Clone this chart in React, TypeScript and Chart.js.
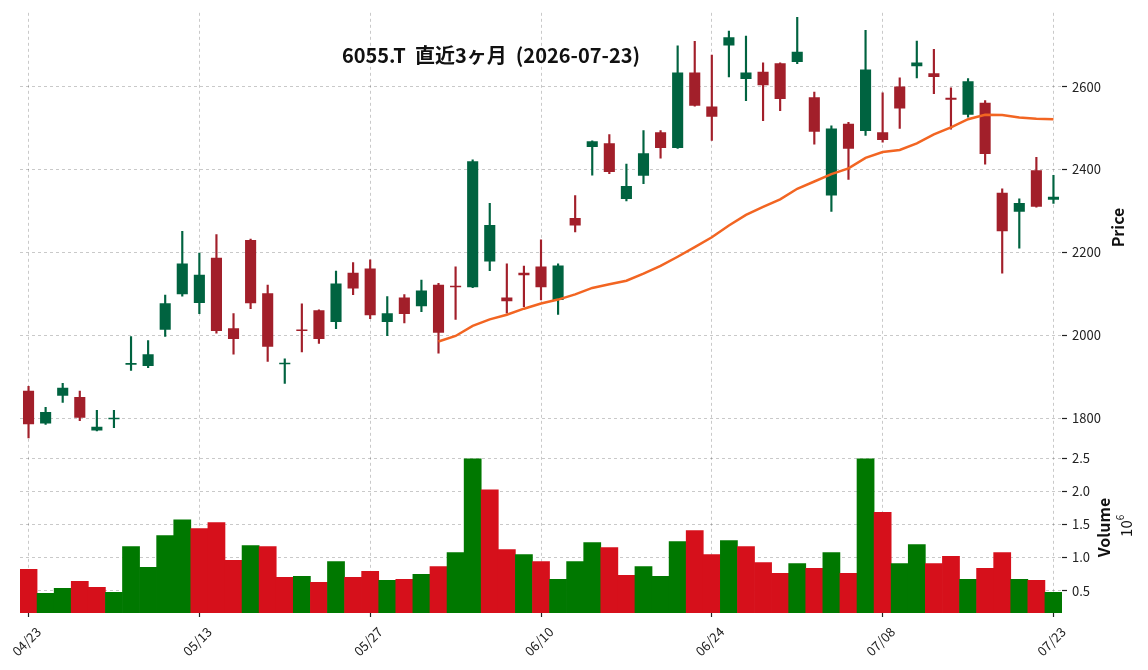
import React, { useEffect, useRef } from 'react';
import { Chart, registerables } from 'chart.js';

Chart.register(...registerables);

const TITLE = '6055.T  直近3ヶ月  (2026-07-23)';

const dates = ['04/23','04/24','04/27','04/28','04/30','05/01','05/07','05/08','05/11','05/12','05/13','05/14','05/15','05/18','05/19','05/20','05/21','05/22','05/25','05/26','05/27','05/28','05/29','06/01','06/02','06/03','06/04','06/05','06/08','06/09','06/10','06/11','06/12','06/15','06/16','06/17','06/18','06/19','06/22','06/23','06/24','06/25','06/26','06/29','06/30','07/01','07/02','07/03','07/06','07/07','07/08','07/09','07/10','07/13','07/14','07/15','07/16','07/17','07/21','07/22','07/23'];

const opens = [1866,1787,1854,1851,1770,1797,1929,1926,2013,2099,2078,2187,2017,2230,2101,1930,2014,2060,2032,2151,2161,2032,2091,2070,2122,2118,2116,2178,2091,2151,2166,2085,2283,2454,2463,2329,2385,2490,2452,2634,2552,2699,2618,2636,2656,2659,2574,2337,2510,2493,2490,2600,2649,2632,2573,2532,2561,2344,2298,2398,2327];
const highs = [1877,1826,1884,1865,1819,1819,1997,1987,2097,2251,2198,2243,2052,2232,2121,1943,2076,2061,2155,2175,2182,2093,2098,2133,2125,2165,2423,2318,2172,2167,2230,2172,2337,2469,2484,2413,2494,2494,2698,2709,2676,2734,2722,2657,2657,2767,2587,2505,2514,2736,2585,2621,2710,2690,2597,2619,2566,2353,2329,2429,2386];
const lows = [1752,1785,1838,1794,1769,1777,1915,1922,1997,2094,2052,2005,1954,2064,1937,1884,1960,1980,2016,2098,2040,1999,2030,2057,1957,2038,2115,2156,2053,2069,2085,2050,2249,2386,2390,2324,2366,2427,2451,2553,2470,2623,2566,2518,2542,2655,2461,2299,2376,2482,2466,2499,2621,2583,2497,2526,2413,2150,2210,2309,2318];
const closes = [1785,1815,1873,1801,1779,1801,1933,1954,2077,2173,2146,2010,1991,2077,1972,1933,2010,1991,2125,2113,2048,2053,2051,2108,2006,2116,2420,2266,2082,2145,2116,2168,2265,2468,2394,2360,2439,2452,2634,2554,2527,2719,2634,2603,2570,2684,2491,2499,2450,2641,2471,2547,2658,2623,2568,2613,2437,2251,2319,2310,2334];
// volume in millions (x 10^6)
const volumes = [0.82,0.46,0.535,0.64,0.55,0.475,1.166,0.85,1.33,1.57,1.437,1.527,0.956,1.18,1.166,0.70,0.715,0.625,0.94,0.70,0.79,0.655,0.67,0.745,0.865,1.076,2.49,2.02,1.12,1.046,0.94,0.67,0.94,1.226,1.15,0.73,0.865,0.715,1.24,1.405,1.046,1.256,1.166,0.925,0.76,0.91,0.835,1.076,0.76,2.49,1.68,0.91,1.196,0.91,1.016,0.67,0.835,1.076,0.67,0.655,0.475];

const priceTicks = [1800, 2000, 2200, 2400, 2600];
const volumeTicks = [0.5, 1.0, 1.5, 2.0, 2.5];
const MA_PERIOD = 25;

const UP = '#006340';
const DOWN = '#a21f2a';
const VOL_UP = '#007800';
const VOL_DOWN = '#d6101b';
const MA_COLOR = '#f26522';
const GRID = 'rgba(0,0,0,0.3)';
const FONT = '"Noto Sans CJK JP", "Noto Sans", sans-serif';

function movingAverage(values: number[], period: number): (number | null)[] {
  return values.map((_, i) => {
    if (i < period - 1) return null;
    let s = 0;
    for (let k = i - period + 1; k <= i; k++) s += values[k];
    return s / period;
  });
}

const labelsPlugin = {
  id: 'customTexts',
  afterDraw(chart: any) {
    const ctx = chart.ctx;
    const ys = chart.scales.y;
    const yv = chart.scales.yv;
    const right = chart.chartArea.right;
    ctx.save();
    ctx.fillStyle = '#111';
    ctx.textAlign = 'center';
    ctx.textBaseline = 'middle';
    ctx.font = `bold 20px ${FONT}`;
    ctx.fillText(TITLE, 491, 55);

    ctx.save();
    ctx.translate(right + 56, (ys.top + ys.bottom) / 2);
    ctx.rotate(-Math.PI / 2);
    ctx.font = `bold 16px ${FONT}`;
    ctx.fillText('Price', 0, 0);
    ctx.restore();

    ctx.save();
    ctx.translate(right + 42, (yv.top + yv.bottom) / 2);
    ctx.rotate(-Math.PI / 2);
    ctx.font = `bold 16px ${FONT}`;
    ctx.fillText('Volume', 0, 0);
    ctx.restore();

    ctx.save();
    ctx.translate(right + 64, (yv.top + yv.bottom) / 2 - 3);
    ctx.rotate(-Math.PI / 2);
    ctx.font = `15px ${FONT}`;
    ctx.textAlign = 'left';
    const w = ctx.measureText('10').width;
    ctx.fillText('10', -w / 2 - 4, 0);
    ctx.font = `10px ${FONT}`;
    ctx.fillText('6', w / 2 - 4, -6);
    ctx.restore();

    ctx.restore();
  },
};

const gridOpts = (tickLength: number) => ({
  color: GRID,
  lineWidth: 0.7,
  drawTicks: true,
  tickLength,
  tickColor: '#222',
  tickWidth: 1.2,
  tickBorderDash: [],
});

export default function App() {
  const ref = useRef<HTMLCanvasElement | null>(null);

  useEffect(() => {
    if (!ref.current) return;
    const ma = movingAverage(closes, MA_PERIOD);
    const candleColors = closes.map((c, i) => (c >= opens[i] ? UP : DOWN));
    const volColors = closes.map((c, i) => {
      const up = i === 0 ? c >= opens[i] : c >= closes[i - 1];
      return up ? VOL_UP : VOL_DOWN;
    });

    const chart = new Chart(ref.current, {
      type: 'bar',
      data: {
        labels: dates,
        datasets: [
          {
            type: 'line',
            label: 'MA25',
            data: ma,
            yAxisID: 'y',
            borderColor: MA_COLOR,
            borderWidth: 2.5,
            pointRadius: 0,
            tension: 0,
            spanGaps: false,
            order: 0,
          } as any,
          {
            label: 'body',
            data: opens.map((o, i) => [o, closes[i]]),
            yAxisID: 'y',
            backgroundColor: candleColors,
            borderWidth: 0,
            barPercentage: 0.65,
            categoryPercentage: 1,
            grouped: false,
            minBarLength: 1.5,
            order: 1,
          },
          {
            label: 'wick',
            data: lows.map((l, i) => [l, highs[i]]),
            yAxisID: 'y',
            backgroundColor: candleColors,
            borderWidth: 0,
            barThickness: 1.5,
            grouped: false,
            order: 2,
          },
          {
            label: 'volume',
            data: volumes,
            yAxisID: 'yv',
            backgroundColor: volColors,
            borderWidth: 0,
            barPercentage: 1,
            categoryPercentage: 1,
            grouped: false,
            order: 3,
          },
        ],
      },
      options: {
        responsive: false,
        animation: false,
        devicePixelRatio: 1,
        layout: { padding: { left: 20, top: 10, right: 0, bottom: 0 } },
        plugins: {
          legend: { display: false },
          tooltip: { enabled: false },
          title: { display: false },
        },
        scales: {
          x: {
            type: 'category',
            offset: true,
            border: { display: false, dash: [3, 3] },
            grid: { ...gridOpts(4), offset: false } as any,
            ticks: {
              autoSkip: false,
              maxRotation: 45,
              minRotation: 45,
              color: '#222',
              font: { family: FONT, size: 13 },
              padding: 7,
              labelOffset: 10,
            },
            afterBuildTicks: (scale: any) => {
              scale.ticks = scale.ticks.filter((t: any) => t.value % 10 === 0);
            },
            afterFit: (scale: any) => {
              scale.height = 57;
              scale.paddingLeft = 0;
              scale.paddingRight = 0;
            },
          },
          y: {
            type: 'linear',
            position: 'right',
            stack: 'panels',
            stackWeight: 431,
            min: 1742,
            max: 2778,
            border: { display: false, dash: [3, 3] },
            grid: gridOpts(5) as any,
            ticks: {
              color: '#222',
              font: { family: FONT, size: 13 },
              padding: 5,
              callback: (v: any) => String(v),
            },
            afterBuildTicks: (scale: any) => {
              scale.ticks = priceTicks.map((v) => ({ value: v }));
            },
            afterFit: (scale: any) => {
              scale.width = 86;
            },
          },
          yv: {
            type: 'linear',
            position: 'right',
            stack: 'panels',
            stackWeight: 171.5,
            min: 0.163,
            max: 2.74,
            border: { display: false, dash: [3, 3] },
            grid: gridOpts(5) as any,
            ticks: {
              color: '#222',
              font: { family: FONT, size: 13 },
              padding: 5,
              callback: (v: any) => Number(v).toFixed(1),
            },
            afterBuildTicks: (scale: any) => {
              scale.ticks = volumeTicks.map((v) => ({ value: v }));
            },
            afterFit: (scale: any) => {
              scale.width = 86;
            },
          },
        },
      } as any,
      plugins: [labelsPlugin],
    });
    return () => chart.destroy();
  }, []);

  return (
    <div style={{ position: 'absolute', left: 0, top: 0, width: 1148, height: 670, background: '#fff' }}>
      <canvas ref={ref} width={1148} height={670} style={{ display: 'block' }} />
    </div>
  );
}
